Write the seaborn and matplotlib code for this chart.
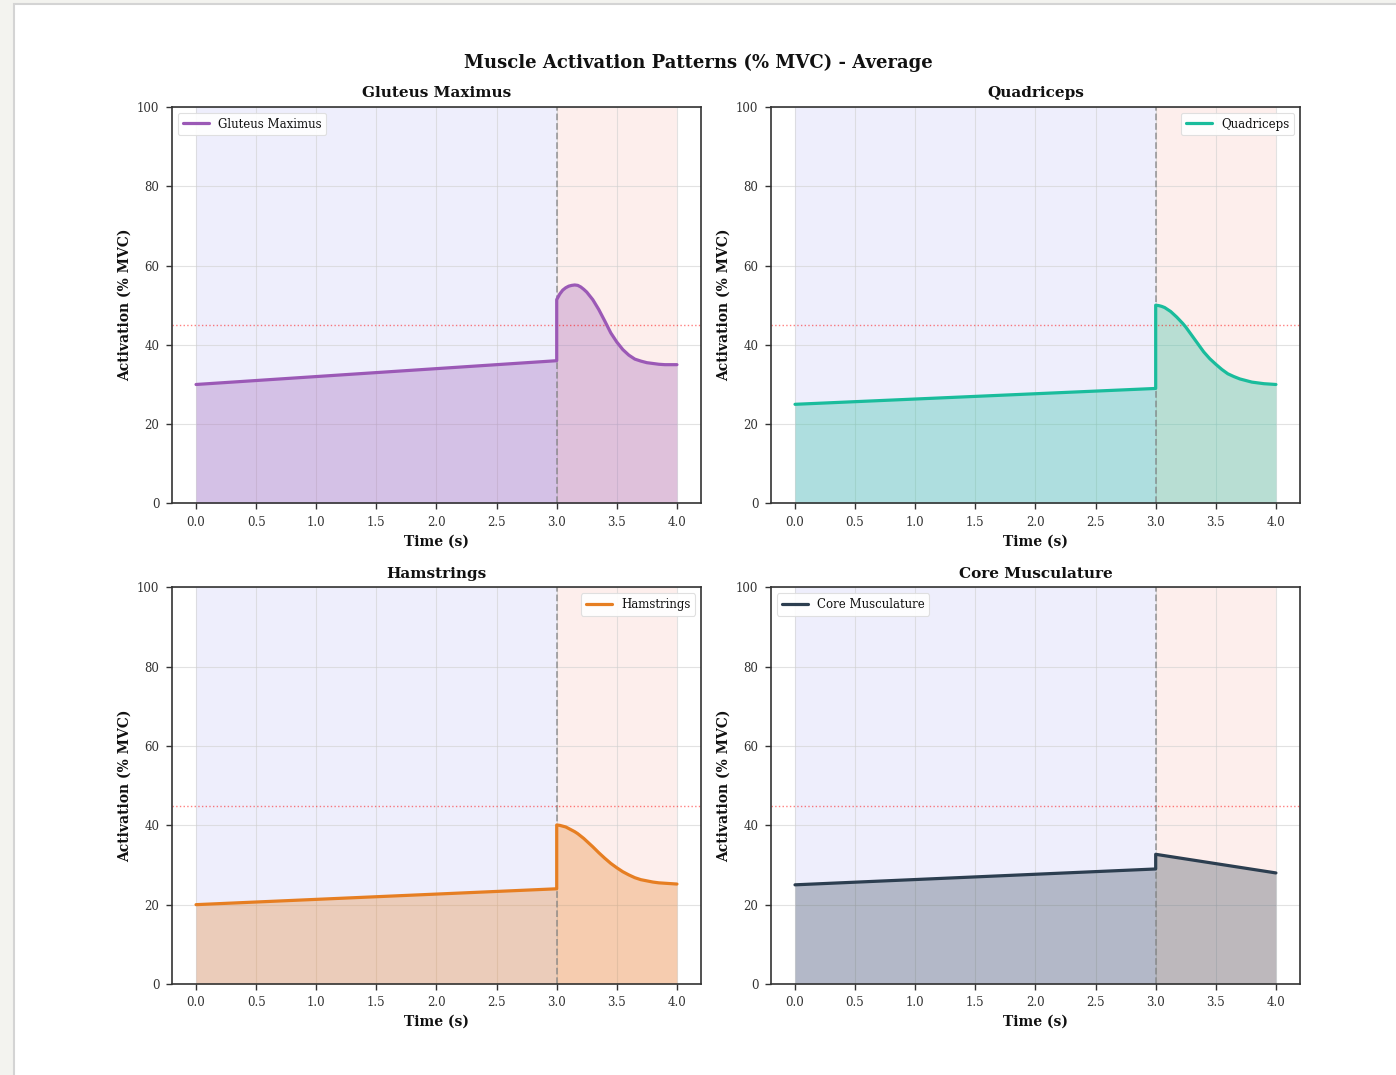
import matplotlib
matplotlib.use("Agg")
import matplotlib.pyplot as plt
import seaborn as sns
from matplotlib.patches import Rectangle

# ---------------- data ----------------
muscles = ["Gluteus Maximus", "Quadriceps", "Hamstrings", "Core Musculature"]
colors = ["#9b59b6", "#1abc9c", "#e67e22", "#2c3e50"]
legend_locs = ["upper left", "upper right", "upper right", "upper left"]

time_pre = [0.0, 3.0]
time_post = [3.0, 3.025, 3.05, 3.075, 3.1, 3.125, 3.15, 3.175, 3.2, 3.225, 3.25,
             3.3, 3.35, 3.4, 3.45, 3.5, 3.55, 3.6, 3.65, 3.7, 3.75, 3.8,
             3.85, 3.9, 4.0]

glute_pre = [30.0, 36.0]
glute_post = [51.4, 52.8, 53.8, 54.4, 54.8, 55.0, 55.1, 55.0, 54.6, 54.0, 53.3,
              51.4, 48.9, 46.0, 43.0, 40.7, 38.8, 37.4, 36.4, 35.9, 35.5, 35.3,
              35.1, 35.0, 35.0]

quad_pre = [25.0, 29.0]
quad_post = [50.0, 49.9, 49.7, 49.4, 48.9, 48.4, 47.7, 47.0, 46.2, 45.4, 44.5,
             42.4, 40.3, 38.2, 36.5, 35.1, 33.8, 32.7, 32.0, 31.4, 31.0, 30.6,
             30.4, 30.2, 30.0]

ham_pre = [20.0, 24.0]
ham_post = [40.1, 40.0, 39.8, 39.6, 39.2, 38.8, 38.4, 37.9, 37.3, 36.7, 36.0,
            34.6, 33.1, 31.7, 30.4, 29.3, 28.3, 27.5, 26.8, 26.3, 26.0, 25.7,
            25.5, 25.4, 25.2]

core_time = [0.0, 3.0, 3.0, 4.0]
core_vals = [25.0, 29.0, 32.7, 28.0]

threshold = 45
phase_change = 3.0
phase_end = 4.0
x_ticks = [0.0, 0.5, 1.0, 1.5, 2.0, 2.5, 3.0, 3.5, 4.0]
y_ticks = [0, 20, 40, 60, 80, 100]

series = [
    (time_pre + time_post, glute_pre + glute_post),
    (time_pre + time_post, quad_pre + quad_post),
    (time_pre + time_post, ham_pre + ham_post),
    (core_time, core_vals),
]

# ---------------- style ----------------
sns.set_theme(style="whitegrid")
plt.rcParams["font.family"] = ["DejaVu Serif"]
plt.rcParams["axes.edgecolor"] = "#333333"
plt.rcParams["axes.linewidth"] = 1.2
plt.rcParams["xtick.bottom"] = True
plt.rcParams["ytick.left"] = True
plt.rcParams["xtick.color"] = "#333333"
plt.rcParams["ytick.color"] = "#333333"
plt.rcParams["text.color"] = "#111111"
plt.rcParams["axes.labelcolor"] = "#111111"

fig, axes = plt.subplots(2, 2, figsize=(13.96, 10.75), dpi=100)
fig.patch.set_facecolor("#f3f3ef")
fig.patches.append(Rectangle((14 / 1396, -0.01), 1.0, 1 - 4 / 1075 + 0.01,
                             transform=fig.transFigure, facecolor="white",
                             edgecolor="#d4d4d4", linewidth=1.5, zorder=-10))
fig.subplots_adjust(left=0.1232, right=0.9312, top=0.9005, bottom=0.0847,
                    wspace=0.1323, hspace=0.212)

for ax, name, color, loc, (tt, vv) in zip(axes.flat, muscles, colors, legend_locs, series):
    ax.set_facecolor("white")
    ax.axvspan(0, phase_change, color="#eeeefc", zorder=0, lw=0)
    ax.axvspan(phase_change, phase_end, color="#fdeeec", zorder=0, lw=0)
    ax.fill_between(tt, vv, 0, color=color, alpha=0.3, lw=0, zorder=1)
    sns.lineplot(x=tt, y=vv, ax=ax, color=color, lw=2.3, label=name,
                 estimator=None, sort=False, zorder=3)
    ax.axvline(phase_change, color="gray", ls="--", lw=1.3, alpha=0.7, zorder=2)
    ax.axhline(threshold, color="red", ls=":", lw=1.0, alpha=0.5, zorder=2)
    ax.set_xlim(-0.2, 4.2)
    ax.set_ylim(0, 100)
    ax.set_xticks(x_ticks)
    ax.set_xticklabels([f"{v:.1f}" for v in x_ticks])
    ax.set_yticks(y_ticks)
    ax.tick_params(labelsize=8.5, length=4, width=1, pad=5)
    ax.grid(True, color="#d0d0d0", lw=0.8, alpha=0.6)
    for s in ax.spines.values():
        s.set_color("#333333")
        s.set_linewidth(1.2)
    ax.set_xlabel("Time (s)", fontsize=10, fontweight="bold", labelpad=4)
    ax.set_ylabel("Activation (% MVC)", fontsize=10, fontweight="bold")
    ax.set_title(name, fontsize=11, fontweight="bold", pad=7)
    leg = ax.legend(loc=loc, fontsize=8.5, frameon=True, framealpha=0.9,
                    edgecolor="#dddddd", handlelength=2.2)
    leg.get_frame().set_linewidth(0.8)

fig.suptitle("Muscle Activation Patterns (% MVC) - Average", fontsize=13,
             fontweight="bold", y=1 - 63 / 1075, va="center")

fig.savefig("out.png", dpi=100, facecolor=fig.get_facecolor())
